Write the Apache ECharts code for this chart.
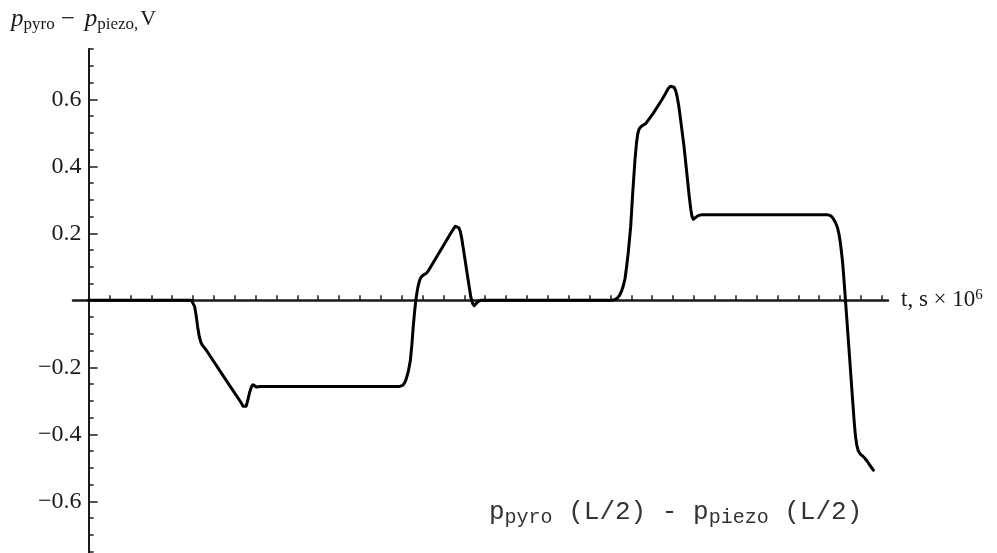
<!DOCTYPE html>
<html><head><meta charset="utf-8">
<script src="https://cdn.jsdelivr.net/npm/echarts@6/dist/echarts.min.js"></script>
<style>html,body{margin:0;padding:0;background:#fff}#c{width:997px;height:553px}</style>
</head><body><div id="c"></div>
<script>
// time, s x 10^6
const tValues = [0, 0.985, 1.0, 1.015, 1.03, 1.045, 1.06, 1.075, 1.09, 1.11, 1.128, 1.31, 1.46, 1.48, 1.496, 1.51, 1.525, 1.545, 1.56, 1.575, 1.59, 1.61, 1.64,
  2.98, 3.01, 3.03, 3.045, 3.065, 3.083, 3.098, 3.11, 3.123, 3.135, 3.147, 3.157, 3.168, 3.18, 3.195, 3.215, 3.237, 3.255, 3.27,
  3.477, 3.5, 3.515, 3.531, 3.548, 3.562, 3.575, 3.59, 3.605, 3.637, 3.662, 3.68, 3.694, 3.71, 3.73, 3.76,
  5.0, 5.04, 5.07, 5.09, 5.107, 5.125, 5.14, 5.155, 5.17, 5.194, 5.213, 5.235, 5.25, 5.262, 5.276, 5.295, 5.315, 5.34, 5.357, 5.38, 5.41,
  5.49, 5.52, 5.554, 5.575, 5.593, 5.61, 5.625, 5.64, 5.655, 5.666, 5.705, 5.737, 5.755, 5.77, 5.782, 5.795, 5.81, 5.827, 5.85, 5.874,
  7.08, 7.1, 7.12, 7.137, 7.155, 7.175, 7.19, 7.2, 7.213, 7.226, 7.248, 7.264, 7.287, 7.312, 7.335, 7.348, 7.361, 7.375, 7.392, 7.415, 7.44, 7.462, 7.482, 7.52];
// p_pyro - p_piezo, V
const vValues = [0, 0, -0.004, -0.018, -0.045, -0.08, -0.108, -0.125, -0.134, -0.142, -0.149, -0.235, -0.305, -0.316, -0.321, -0.316, -0.298, -0.272, -0.258, -0.252, -0.254, -0.259, -0.257,
  -0.257, -0.254, -0.245, -0.233, -0.21, -0.179, -0.13, -0.08, -0.035, 0, 0.025, 0.042, 0.056, 0.066, 0.072, 0.077, 0.081, 0.088, 0.096,
  0.204, 0.215, 0.221, 0.222, 0.216, 0.205, 0.185, 0.155, 0.125, 0.06, 0.01, -0.01, -0.016, -0.012, -0.004, 0,
  0, 0.002, 0.008, 0.016, 0.028, 0.045, 0.065, 0.1, 0.14, 0.219, 0.318, 0.418, 0.47, 0.497, 0.512, 0.519, 0.523, 0.528, 0.533, 0.545, 0.558,
  0.597, 0.613, 0.632, 0.639, 0.64, 0.636, 0.626, 0.607, 0.58, 0.555, 0.46, 0.365, 0.31, 0.272, 0.25, 0.242, 0.245, 0.25, 0.254, 0.255,
  0.255, 0.254, 0.25, 0.243, 0.233, 0.218, 0.198, 0.179, 0.148, 0.11, 0.02, -0.05, -0.149, -0.259, -0.358, -0.405, -0.432, -0.449, -0.458, -0.464, -0.472, -0.481, -0.49, -0.507];
const xTickLabels = [1, 2, 3, 4, 5, 6, 7];
const yTickLabels = [-0.6, -0.4, -0.2, 0.2, 0.4, 0.6];
const xMinorTicks = [];
for (let i = 1; i <= 38; i++) xMinorTicks.push(Math.round(i * 2) / 10);
const yMinorTicks = [];
for (let i = -15; i <= 15; i++) if (i !== 0) yMinorTicks.push(Math.round(i * 5) / 100);

const ink = '#1a1a1a';
const serif = 'Liberation Serif';
const mono = 'Liberation Mono';
const fmtY = v => (v < 0 ? '\u2212' : '') + Math.abs(v).toFixed(1);

const chart = echarts.init(document.getElementById('c'), null, {renderer: 'canvas'});
chart.setOption({
  animation: false,
  backgroundColor: '#fff',
  grid: {left: 73, top: 49, width: 815, height: 506, containLabel: false, outerBoundsMode: 'none'},
  xAxis: {
    type: 'value', min: -0.15, max: 7.66,
    axisLine: {show: true, onZero: true, lineStyle: {color: ink, width: 2.5}},
    axisTick: {show: true, inside: true, length: 5, customValues: xMinorTicks, lineStyle: {color: ink, width: 1.5}},
    axisLabel: {customValues: xTickLabels, margin: 7, fontFamily: serif, fontSize: 24, color: ink},
    splitLine: {show: false},
    name: '{a|t, s \u00d7 10}{b|6}',
    nameLocation: 'end', nameGap: 13,
    nameTextStyle: {rich: {
      a: {fontFamily: serif, fontSize: 23, color: ink, lineHeight: 26},
      b: {fontFamily: serif, fontSize: 15, color: ink, verticalAlign: 'top', lineHeight: 15}
    }}
  },
  yAxis: [{
    type: 'value', min: -0.76, max: 0.75, position: 'left',
    axisLine: {show: true, onZero: true, onZeroAxisIndex: 0, lineStyle: {color: ink, width: 2}},
    axisTick: {show: true, inside: true, length: 5, customValues: yMinorTicks, lineStyle: {color: ink, width: 1.5}},
    axisLabel: {customValues: yTickLabels, margin: -8.5, fontFamily: serif, fontSize: 24, color: ink, formatter: fmtY},
    splitLine: {show: false}
  }, {
    type: 'value', min: -0.76, max: 0.75, position: 'left',
    axisLine: {show: true, onZero: true, onZeroAxisIndex: 0, lineStyle: {color: '#fff', width: 0, opacity: 0}},
    axisTick: {show: true, inside: true, length: 9, customValues: yTickLabels, lineStyle: {color: ink, width: 1.5, opacity: 1}},
    axisLabel: {show: false},
    splitLine: {show: false}
  }],
  graphic: [{
    type: 'text', left: 11, top: 7,
    style: {
      text: '{i|p}{s|pyro}{op|\u2212}{i|p}{s|piezo}{c|,}{v|V}',
      rich: {
        i: {fontFamily: serif, fontStyle: 'italic', fontSize: 25, fill: ink, color: ink, lineHeight: 28},
        s: {fontFamily: serif, fontSize: 17, fill: ink, color: ink, verticalAlign: 'bottom', lineHeight: 18},
        c: {fontFamily: serif, fontSize: 17, fill: ink, color: ink, verticalAlign: 'bottom', lineHeight: 18},
        op: {fontFamily: serif, fontSize: 25, fill: ink, color: ink, lineHeight: 28, padding: [0, 10, 0, 6]},
        v: {fontFamily: serif, fontSize: 22, fill: ink, color: ink, lineHeight: 28, padding: [0, 0, 0, 2]}
      }
    }
  }, {
    type: 'text', left: 489, top: 499,
    style: {
      text: '{m|p}{s|pyro}{m| (L/2) - }{m|p}{s|piezo}{m| (L/2)}',
      rich: {
        m: {fontFamily: mono, fontSize: 26, fill: '#333', color: '#333', lineHeight: 32},
        s: {fontFamily: mono, fontSize: 20, fill: '#333', color: '#333', verticalAlign: 'bottom', lineHeight: 25}
      }
    }
  }],
  series: [{
    type: 'line',
    data: tValues.map((t, i) => [t, vValues[i]]),
    showSymbol: false,
    smooth: false,
    lineStyle: {color: '#000', width: 3, join: 'round', cap: 'round'},
    itemStyle: {color: '#000'}
  }]
});
</script></body></html>
